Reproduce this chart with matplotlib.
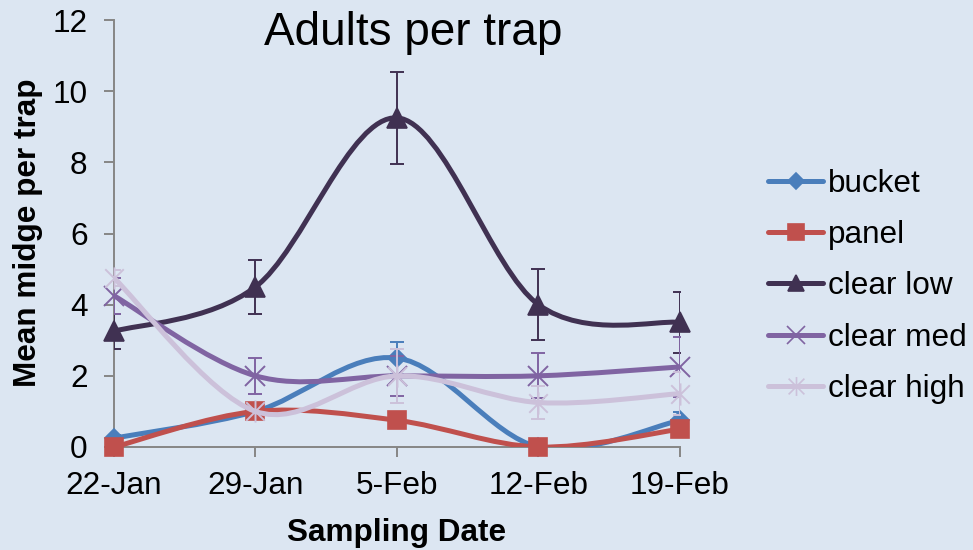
import numpy as np
import matplotlib
matplotlib.use("Agg")
import matplotlib.pyplot as plt
from matplotlib.path import Path
from matplotlib.patches import PathPatch
from matplotlib.lines import Line2D

plt.rcParams['font.family'] = ['Liberation Sans', 'DejaVu Sans']

dates = ["22-Jan", "29-Jan", "5-Feb", "12-Feb", "19-Feb"]
series_names = ["bucket", "panel", "clear low", "clear med", "clear high"]
bucket = [0.25, 1.0, 2.5, 0.0, 0.75]
panel = [0.0, 1.0, 0.75, 0.0, 0.5]
clear_low = [3.25, 4.5, 9.25, 4.0, 3.5]
clear_med = [4.25, 2.0, 2.0, 2.0, 2.25]
clear_high = [4.75, 1.0, 2.0, 1.25, 1.5]
bucket_err = [0.1, 0.0, 0.45, 0.0, 0.22]
panel_err = [0.0, 0.0, 0.0, 0.0, 0.0]
clear_low_err = [0.5, 0.75, 1.3, 1.0, 0.86]
clear_med_err = [0.5, 0.5, 0.57, 0.63, 0.85]
clear_high_err = [0.22, 0.0, 0.75, 0.47, 0.6]

values = [bucket, panel, clear_low, clear_med, clear_high]
errors = [bucket_err, panel_err, clear_low_err, clear_med_err, clear_high_err]
colors = ["#4A7EBB", "#C0504D", "#403152", "#8064A2", "#CCC1DA"]

# star marker: x plus vertical line
star = Path([(-0.5, -0.5), (0.5, 0.5), (-0.5, 0.5), (0.5, -0.5), (0, -0.6), (0, 0.6)],
            [Path.MOVETO, Path.LINETO, Path.MOVETO, Path.LINETO, Path.MOVETO, Path.LINETO])
markers = ["D", "s", "^", "x", star]
msizes = [9, 13, 14, 15, 16]

bg = "#DCE6F2"
fig = plt.figure(figsize=(9.73, 5.5), dpi=100, facecolor=bg)
ax = fig.add_axes([114/973, 1-447/550, (680-114)/973, (447-20)/550])
ax.set_facecolor(bg)


def smooth_path(xs, ys):
    pts = np.column_stack([xs, ys]).astype(float)
    n = len(pts)
    verts = [pts[0]]
    codes = [Path.MOVETO]
    for i in range(n - 1):
        p0 = pts[i - 1] if i > 0 else pts[i]
        p1 = pts[i]
        p2 = pts[i + 1]
        p3 = pts[i + 2] if i + 2 < n else pts[i + 1]
        c1 = p1 + (p2 - p0) / 6.0
        c2 = p2 - (p3 - p1) / 6.0
        verts += [c1, c2, p2]
        codes += [Path.CURVE4] * 3
    return Path(verts, codes)


x = np.arange(len(dates))
for k, (vals, errs, col, mk, ms) in enumerate(zip(values, errors, colors, markers, msizes)):
    z = 3 + k
    errs_arr = np.array(errs)
    mask = errs_arr > 0
    if mask.any():
        ax.errorbar(x[mask], np.array(vals)[mask], yerr=errs_arr[mask], fmt='none',
                    ecolor=col, elinewidth=1.4, capsize=4.7, capthick=1.4, zorder=z)
    patch = PathPatch(smooth_path(x, vals), facecolor='none', edgecolor=col,
                      lw=3.6, capstyle='round', joinstyle='round', zorder=z + 0.1)
    ax.add_patch(patch)
    filled = mk in ("D", "s", "^")
    ax.plot(x, vals, linestyle='none', marker=mk, markersize=ms, color=col,
            markeredgewidth=1.2 if filled else 1.4, zorder=z + 0.2, clip_on=False)

ax.set_xlim(0, 4)
ax.set_ylim(0, 12)
ax.set_yticks(np.arange(0, 13, 2))
ax.set_xticks(x)
ax.set_xticklabels(dates)
for s in ["top", "right"]:
    ax.spines[s].set_visible(False)
for s in ["left", "bottom"]:
    ax.spines[s].set_color("#868686")
    ax.spines[s].set_linewidth(1.4)
ax.tick_params(axis='both', colors="#868686", labelcolor="black", labelsize=22.7,
               length=7, width=1.4, direction='out')
ax.tick_params(axis='y', pad=12)
ax.tick_params(axis='x', pad=10)

ax.set_xlabel("Sampling Date", fontsize=22.7, fontweight='bold', labelpad=12.5)
fig.text(28/973, 1-233/550, "Mean midge per trap", rotation=90, fontsize=22.7,
         fontweight='bold', ha='center', va='center')
fig.text(413/973, 1-45/550, "Adults per trap", fontsize=33, ha='center', va='baseline')

handles = [Line2D([0], [0], color=c, lw=3.6, marker=m, markersize=s * 0.85,
                  markeredgewidth=1.2, solid_capstyle='round')
           for c, m, s in zip(colors, markers, msizes)]
leg = fig.legend(handles, series_names, loc='center left',
                 bbox_to_anchor=(768/973, 1-286.5/550), frameon=False,
                 fontsize=22.7, handlelength=1.75, handletextpad=0.15,
                 labelspacing=0.67, borderpad=0, borderaxespad=0)

fig.savefig("out.png", dpi=100, facecolor=bg)
